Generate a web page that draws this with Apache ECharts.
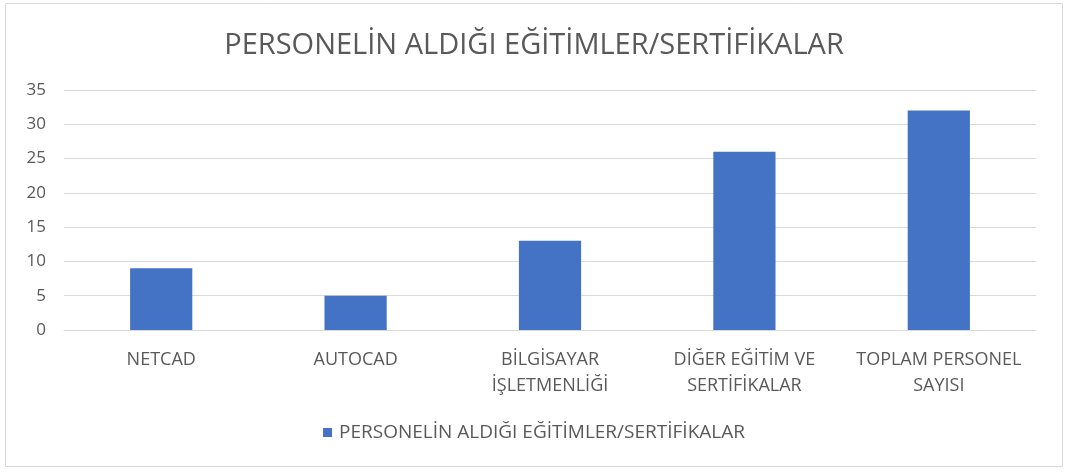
<!DOCTYPE html>
<html><head><meta charset="utf-8">
<script src="https://cdn.jsdelivr.net/npm/echarts@6/dist/echarts.min.js"></script>
<style>html,body{margin:0;padding:0;background:#fff}#c{width:1068px;height:472px}</style>
</head><body><div id="c"></div>
<script>
const categories = ['NETCAD', 'AUTOCAD', 'BİLGİSAYAR\nİŞLETMENLİĞİ', 'DİĞER EĞİTİM VE\nSERTİFİKALAR', 'TOPLAM PERSONEL\nSAYISI'];
const values = [9, 5, 13, 26, 32];
const seriesName = 'PERSONELİN ALDIĞI EĞİTİMLER/SERTİFİKALAR';
const titleText = 'PERSONELİN ALDIĞI EĞİTİMLER/SERTİFİKALAR';

const FONT = "'Open Sans', sans-serif";
const chart = echarts.init(document.getElementById('c'), null, {renderer: 'canvas'});
chart.setOption({
  backgroundColor: '#fff',
  animation: false,
  title: {
    text: titleText, left: 'center', top: 26,
    textStyle: {fontFamily: FONT, fontSize: 29, fontWeight: 'normal', color: '#595959'}
  },
  legend: {
    data: [seriesName], bottom: 25, left: 'center',
    itemWidth: 9, itemHeight: 9, itemGap: 4, icon: 'rect',
    textStyle: {fontFamily: FONT, fontSize: 19, color: '#595959', padding: [0, 0, 0, 2]}
  },
  grid: {left: 64, right: 32, top: 90, bottom: 142, containLabel: false},
  xAxis: {
    type: 'category', data: categories,
    axisLine: {lineStyle: {color: '#d9d9d9', width: 1}},
    axisTick: {show: false},
    axisLabel: {fontFamily: FONT, fontSize: 18, color: '#595959', margin: 17, lineHeight: 26, interval: 0}
  },
  yAxis: {
    type: 'value', min: 0, max: 35, interval: 5,
    axisLine: {show: false}, axisTick: {show: false},
    splitLine: {lineStyle: {color: '#d9d9d9', width: 1}},
    axisLabel: {fontFamily: FONT, fontSize: 17, color: '#595959', margin: 18}
  },
  series: [{
    name: seriesName, type: 'bar', data: values, barWidth: '32%',
    itemStyle: {color: '#4472C4'}
  }],
  graphic: [{
    type: 'rect', shape: {x: 5.5, y: 3.5, width: 1057, height: 463},
    style: {fill: 'none', stroke: '#d9d9d9', lineWidth: 1}, silent: true
  }]
});
</script></body></html>
